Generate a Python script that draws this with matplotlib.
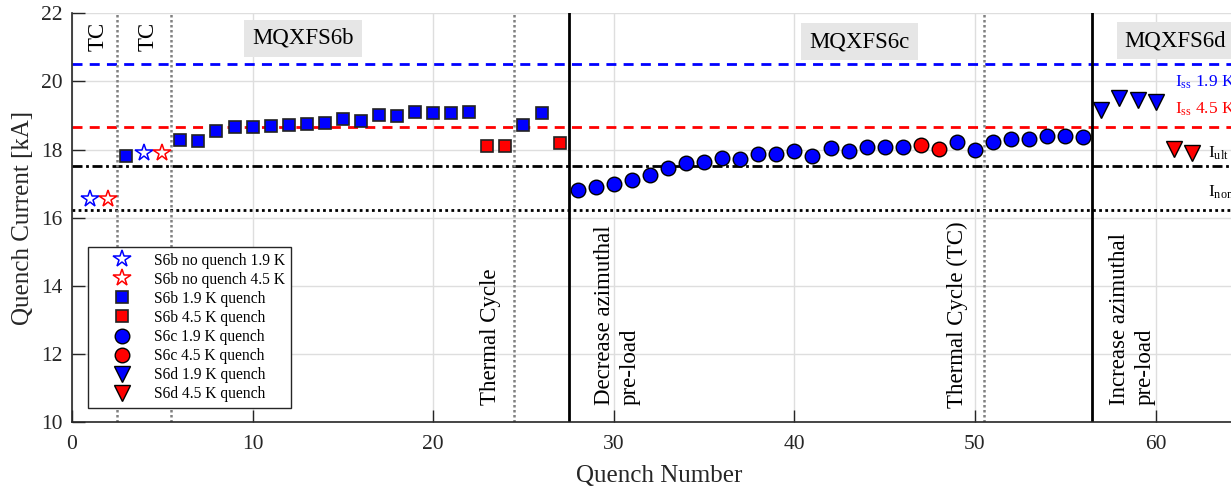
import matplotlib
matplotlib.use("Agg")
import matplotlib.pyplot as plt

plt.rcParams['font.family'] = 'serif'
plt.rcParams['font.serif'] = ['Liberation Serif', 'DejaVu Serif']
plt.rcParams['mathtext.fontset'] = 'custom'
plt.rcParams['mathtext.rm'] = 'Liberation Serif'
plt.rcParams['mathtext.it'] = 'Liberation Serif:italic'

# data (quench number, quench current in kA)
s6b_nq19_x = [1, 4]
s6b_nq19_y = [16.55, 17.90]
s6b_nq45_x = [2, 5]
s6b_nq45_y = [16.55, 17.90]

s6b_19_x = [3, 6, 7, 8, 9, 10, 11, 12, 13, 14, 15, 16, 17, 18, 19, 20, 21, 22, 25, 26]
s6b_19_y = [17.82, 18.28, 18.25, 18.53, 18.66, 18.66, 18.70, 18.72, 18.75, 18.79,
            18.91, 18.83, 19.02, 18.99, 19.11, 19.08, 19.08, 19.11, 18.72, 19.08]
s6b_45_x = [23, 24, 27]
s6b_45_y = [18.11, 18.11, 18.19]

s6c_19_x = [28, 29, 30, 31, 32, 33, 34, 35, 36, 37, 38, 39, 40, 41, 42, 43, 44, 45, 46,
            49, 50, 51, 52, 53, 54, 55, 56]
s6c_19_y = [16.81, 16.89, 17.00, 17.11, 17.26, 17.45, 17.61, 17.64, 17.75, 17.72,
            17.87, 17.87, 17.96, 17.80, 18.04, 17.96, 18.08, 18.08, 18.08,
            18.22, 18.00, 18.22, 18.32, 18.32, 18.40, 18.40, 18.36]
s6c_45_x = [47, 48]
s6c_45_y = [18.12, 18.03]

s6d_19_x = [57, 58, 59, 60]
s6d_19_y = [19.15, 19.52, 19.45, 19.41]
s6d_45_x = [61, 62]
s6d_45_y = [18.01, 17.90]

# reference currents
i_ss_19 = 20.51
i_ss_45 = 18.67
i_ult = 17.52
i_nom = 16.23

tc_lines = [2.5, 5.5, 24.5, 50.5]
change_lines = [27.5, 56.5]

BLUE = '#0000ff'
RED = '#ff0000'

fig = plt.figure(figsize=(12.31, 4.86), dpi=100)
ax = fig.add_axes([72 / 1231, 64 / 486, 65 * 18.06 / 1231, 408.7 / 486])

# horizontal reference lines
ax.axhline(i_ss_19, color=BLUE, ls=(0, (3.6, 2.6)), lw=2, zorder=2)
ax.axhline(i_ss_45, color=RED, ls=(0, (3.6, 2.6)), lw=2, zorder=2)
ax.axhline(i_ult, color='k', ls=(0, (3.6, 1.3, 1, 1.3)), lw=2, zorder=2)
ax.axhline(i_nom, color='k', ls=(0, (1, 1.2)), lw=2, zorder=2)

for xv in tc_lines:
    ax.axvline(xv, color='#808080', ls=(0, (1, 1)), lw=1.8, zorder=2)
for xv in change_lines:
    ax.axvline(xv, color='k', ls='-', lw=2, zorder=2)

# markers
ax.plot(s6b_nq19_x, s6b_nq19_y, ls='none', marker='*', ms=13, mfc='none', mec=BLUE,
        mew=1.1, label='S6b no quench 1.9 K', zorder=4)
ax.plot(s6b_nq45_x, s6b_nq45_y, ls='none', marker='*', ms=13, mfc='none', mec=RED,
        mew=1.1, label='S6b no quench 4.5 K', zorder=4)
ax.plot(s6b_19_x, s6b_19_y, ls='none', marker='s', ms=9, mfc=BLUE, mec='#222222',
        mew=1.2, label='S6b 1.9 K quench', zorder=4)
ax.plot(s6b_45_x, s6b_45_y, ls='none', marker='s', ms=9, mfc=RED, mec='#222222',
        mew=1.2, label='S6b 4.5 K quench', zorder=4)
ax.plot(s6c_19_x, s6c_19_y, ls='none', marker='o', ms=10.5, mfc=BLUE, mec='k',
        mew=1, label='S6c 1.9 K quench', zorder=4)
ax.plot(s6c_45_x, s6c_45_y, ls='none', marker='o', ms=10.5, mfc=RED, mec='k',
        mew=1, label='S6c 4.5 K quench', zorder=4)
ax.plot(s6d_19_x, s6d_19_y, ls='none', marker='v', ms=11, mfc=BLUE, mec='k',
        mew=1, label='S6d 1.9 K quench', zorder=4)
ax.plot(s6d_45_x, s6d_45_y, ls='none', marker='v', ms=11, mfc=RED, mec='k',
        mew=1, label='S6d 4.5 K quench', zorder=4)

ax.set_xlim(0, 65)
ax.set_ylim(10, 22)
ax.set_xticks([0, 10, 20, 30, 40, 50, 60])
ax.set_yticks([10, 12, 14, 16, 18, 20, 22])
ax.grid(True, color='#dedede', lw=1)
ax.set_axisbelow(True)
ax.tick_params(direction='in', length=9, width=1, labelsize=15.5, colors='#262626')
ax.tick_params(axis='x', pad=9)
ax.tick_params(axis='y', pad=7)
ax.spines['top'].set_visible(False)
ax.spines['right'].set_visible(False)
for s in ['left', 'bottom']:
    ax.spines[s].set_color('#262626')
    ax.spines[s].set_linewidth(1.2)

ax.set_xlabel('Quench Number', fontsize=18, color='#262626', labelpad=8)
ax.set_ylabel('Quench Current [kA]', fontsize=18, color='#262626', labelpad=5)

# annotations
box = dict(boxstyle='square,pad=0.35', fc='#e6e6e6', ec='none')
ax.text(12.8, 21.27, 'MQXFS6b', fontsize=16.5, ha='center', va='center', bbox=box)
ax.text(43.6, 21.16, 'MQXFS6c', fontsize=16.5, ha='center', va='center', bbox=box)
ax.text(61.1, 21.2, 'MQXFS6d', fontsize=16.5, ha='center', va='center', bbox=box)

ax.text(1.46, 21.75, 'TC', fontsize=16.5, rotation=90, ha='center', va='top')
ax.text(4.23, 21.75, 'TC', fontsize=16.5, rotation=90, ha='center', va='top')

ax.text(23.2, 10.5, 'Thermal Cycle', fontsize=16.5, rotation=90, ha='center', va='bottom')
ax.text(30.2, 10.5, 'Decrease azimuthal\npre-load', fontsize=16.5, rotation=90,
        ha='center', va='bottom', multialignment='left', linespacing=1.3)
ax.text(49.0, 10.4, 'Thermal Cycle (TC)', fontsize=16.5, rotation=90, ha='center', va='bottom')
ax.text(58.7, 10.5, 'Increase azimuthal\npre-load', fontsize=16.5, rotation=90,
        ha='center', va='bottom', multialignment='left', linespacing=1.3)

ax.text(61.07, 19.84, r'I$_{\mathrm{ss}}$ 1.9 K', color=BLUE, fontsize=12.5, va='baseline')
ax.text(61.07, 19.05, r'I$_{\mathrm{ss}}$ 4.5 K', color=RED, fontsize=12.5, va='baseline')
ax.text(62.9, 17.76, r'I$_{\mathrm{ult}}$', color='k', fontsize=12.5, va='baseline')
ax.text(62.9, 16.61, r'I$_{\mathrm{nom}}$', color='k', fontsize=12.5, va='baseline')

leg = ax.legend(loc='upper left', bbox_to_anchor=(0.0136, 0.428), borderaxespad=0,
                fontsize=11.2, frameon=True, fancybox=False, framealpha=1,
                edgecolor='#262626', handlelength=3.7, handletextpad=0.2,
                labelspacing=0.2, borderpad=0.35, numpoints=1)
leg.get_frame().set_linewidth(1)

fig.savefig('out.png', dpi=100)
